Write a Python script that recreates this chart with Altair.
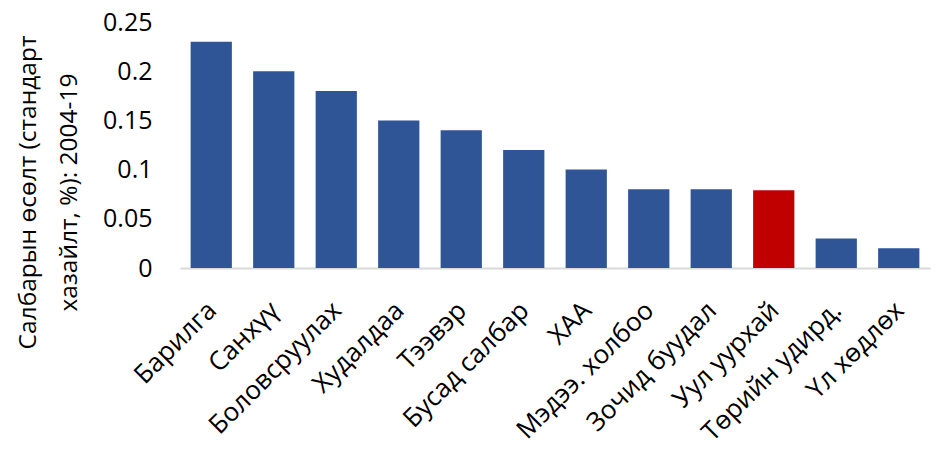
import altair as alt
import pandas as pd

categories = ["Барилга", "Санхүү", "Боловсруулах", "Худалдаа", "Тээвэр", "Бусад салбар",
              "ХАА", "Мэдээ. холбоо", "Зочид буудал", "Уул уурхай", "Төрийн удирд.", "Үл хөдлөх"]
values = [0.23, 0.20, 0.18, 0.15, 0.14, 0.12, 0.10, 0.08, 0.08, 0.079, 0.03, 0.02]
highlight = "Уул уурхай"
y_ticks = [0, 0.05, 0.1, 0.15, 0.2, 0.25]
y_title = ["Салбарын өсөлт (стандарт", "хазайлт, %): 2004-19"]

df = pd.DataFrame({"cat": categories, "val": values})

FONT = "Open Sans"

chart = alt.Chart(df).mark_bar().encode(
    x=alt.X("cat:N", sort=categories,
            scale=alt.Scale(paddingInner=0.34, paddingOuter=0.17),
            axis=alt.Axis(title=None, labelAngle=-45, labelAlign="right", labelBaseline="middle",
                          labelFontSize=26, labelFont=FONT, labelColor="#000000",
                          labelPadding=38, labelOffset=1, labelLimit=400,
                          ticks=False, domainColor="#D9D9D9", domainWidth=2)),
    y=alt.Y("val:Q", scale=alt.Scale(domain=[0, 0.25], nice=False),
            axis=alt.Axis(title=y_title, values=y_ticks, format="~g", grid=False, ticks=False,
                          domain=False, labelFontSize=25, labelFont=FONT, labelColor="#000000",
                          labelPadding=28, titleFontSize=24.5, titleFont=FONT,
                          titleFontWeight="normal", titleColor="#000000", titleAngle=-90,
                          titleAlign="center", titleBaseline="top", titleX=-164, titleY=170,
                          titleLineHeight=41)),
    color=alt.condition(alt.datum.cat == highlight, alt.value("#C00000"), alt.value("#2F5597")),
).properties(
    width=750, height=246,
    autosize=alt.AutoSizeParams(type="none"),
    padding={"left": 172, "top": 14, "right": 4, "bottom": 177},
).configure_view(stroke=None)

chart.save("out.html", embed_options={"renderer": "svg", "actions": False})
